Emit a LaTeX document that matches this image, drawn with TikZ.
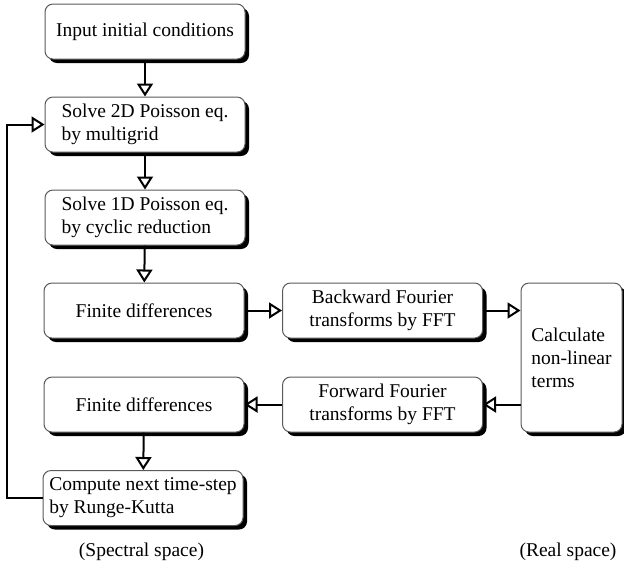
\documentclass[tikz,border=0pt]{standalone}
\usepackage{fontspec}
\setmainfont{Liberation Serif}
\usetikzlibrary{arrows,arrows.meta}
\usetikzlibrary{shadows}
\definecolor{rand}{RGB}{90,90,90}

\begin{document}
\begin{tikzpicture}[x=0.5pt, y=-0.5pt, font=\fontsize{9.75}{11.5}\selectfont,
	kasten/.style={draw=rand, line width=0.5pt, rounded corners=4pt, fill=white, minimum width=100pt, minimum height=27.5pt, inner sep=1pt, drop shadow={shadow xshift=2pt, shadow yshift=-2pt, fill=black, opacity=1}},
	pfeil/.style={line width=1pt, -{Triangle[open, length=6.5pt, width=8pt]}}]

	\useasboundingbox (0,0) rectangle (624,570);

	% Spalte 1 (spektral)
	\node[kasten] (E1) at (145,31.5) {Input initial conditions};
	\node[kasten, align=left] (E2) at (145,124.5) {Solve 2D Poisson eq.\\by multigrid};
	\node[kasten, align=left] (E3) at (145,217.5) {Solve 1D Poisson eq.\\by cyclic reduction};
	\node[kasten] (E4) at (144,310.5) {Finite differences};
	\node[kasten] (E5) at (144,404.5) {Finite differences};
	\node[kasten, align=left] (E6) at (143,498) {Compute next time-step\\by Runge-Kutta};

	\draw[pfeil] (E1) -- (E2);
	\draw[pfeil] (E2) -- (E3);
	\draw[pfeil] (E3) -- (E4);
	\draw[pfeil] (E5) -- (E6);

	% Spalte 2
	\node[kasten, align=center] (B) at (382.5,310.5) {Backward Fourier\\transforms by FFT};
	\node[kasten, align=center] (F) at (382.5,404.5) {Forward Fourier\\transforms by FFT};

	\draw[pfeil] (E4) -- (B);
	\draw[pfeil] (F) -- (E5);

	% Spalte 3 (real)
	\node[kasten, align=left, minimum width=50.5pt, minimum height=74.5pt] (C) at (571.5,357.5) {Calculate\\non-linear\\terms};

	\draw[pfeil] (B.east) -- (B.east -| C.west);
	\draw[pfeil] (C.west |- F) -- (F.east);

	% Rueckkopplung
	\draw[pfeil] (E6.west) -- ++(-36,0) |- (E2.west);

	% Beschriftung
	\node (LS) at (141.5,552) {(Spectral space)};
	\node (LR) at (568,552) {(Real space)};
\end{tikzpicture}
\end{document}
